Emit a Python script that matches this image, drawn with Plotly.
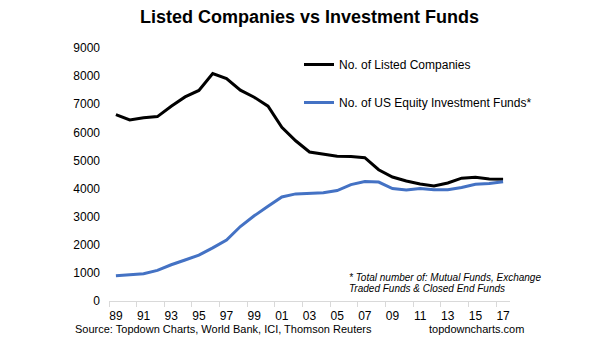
import plotly.graph_objects as go

# Annual counts, 1989-2017
years = list(range(1989, 2018))
listed_companies = [6630, 6440, 6520, 6560, 6930, 7260, 7490, 8090, 7910, 7500,
                    7250, 6930, 6180, 5700, 5300, 5230, 5150, 5140, 5100, 4670,
                    4410, 4270, 4160, 4090, 4200, 4370, 4400, 4340, 4330]
equity_funds = [900, 940, 970, 1090, 1290, 1460, 1630, 1890, 2170, 2650,
                3030, 3370, 3700, 3810, 3830, 3850, 3930, 4140, 4250, 4230,
                4000, 3950, 4000, 3960, 3960, 4040, 4150, 4180, 4240]
year_labels = [f"{y % 100:02d}" for y in years]

FONT = "Liberation Sans, Arial, sans-serif"
W, H = 605, 341
L, R, T, B = 109, 95, 48, 40

fig = go.Figure()
fig.add_trace(go.Scatter(x=year_labels, y=listed_companies, mode="lines",
                         name="No. of Listed Companies",
                         line=dict(color="#000000", width=3),
                         legendgroup="a"))
fig.add_trace(go.Scatter(x=year_labels, y=equity_funds, mode="lines",
                         name="No. of US Equity Investment Funds*",
                         line=dict(color="#4472C4", width=3),
                         legendgroup="b"))

fig.update_layout(
    width=W, height=H,
    margin=dict(l=L, r=R, t=T, b=B, pad=0),
    paper_bgcolor="white", plot_bgcolor="white",
    font=dict(family=FONT, color="#000000", size=12),
    title=dict(text="<b>Listed Companies vs Investment Funds</b>",
               x=0.5, xanchor="center", xref="paper",
               y=1 - 17 / H, yanchor="middle", yref="container",
               font=dict(size=18, family=FONT, color="#000000")),
    showlegend=True,
    legend=dict(x=(299 - L) / (W - L - R), xanchor="left",
                y=1 + (T - 50) / (H - T - B), yanchor="top",
                bgcolor="rgba(0,0,0,0)", font=dict(size=12, family=FONT),
                tracegroupgap=19, traceorder="grouped"),
    xaxis=dict(type="category", range=[-0.5, len(years) - 0.5],
               dtick=2, tickson="boundaries", ticks="outside", ticklen=5,
               tickangle=0, ticklabelstandoff=4,
               tickcolor="#d9d9d9", showline=True, linecolor="#d9d9d9",
               linewidth=1, showgrid=False, zeroline=False,
               tickfont=dict(size=12, family=FONT)),
    yaxis=dict(range=[0, 9000], dtick=1000, showgrid=False, zeroline=False,
               showline=False, ticks="", tickformat="d",
               ticklabelstandoff=8, tickfont=dict(size=12, family=FONT)),
    annotations=[
        dict(text="Source: Topdown Charts, World Bank, ICI, Thomson Reuters",
             xref="paper", yref="paper", x=0, y=0, xanchor="left",
             yanchor="middle", xshift=73 - L, yshift=-(329 - 301),
             showarrow=False, font=dict(size=11, family=FONT)),
        dict(text="topdowncharts.com",
             xref="paper", yref="paper", x=1, y=0, xanchor="right",
             yanchor="middle", xshift=16, yshift=-(329 - 301),
             showarrow=False, font=dict(size=11, family=FONT)),
        dict(text="<i>* Total number of: Mutual Funds, Exchange</i>",
             xref="paper", yref="paper", x=(347 - L) / (W - L - R), y=0,
             xanchor="left", yanchor="middle", yshift=301 - 277,
             showarrow=False, font=dict(size=10, family=FONT)),
        dict(text="<i>Traded Funds &amp; Closed End Funds</i>",
             xref="paper", yref="paper", x=(347 - L) / (W - L - R), y=0,
             xanchor="left", yanchor="middle", yshift=301 - 288,
             showarrow=False, font=dict(size=10, family=FONT)),
    ],
)

fig.write_html("out.html")
